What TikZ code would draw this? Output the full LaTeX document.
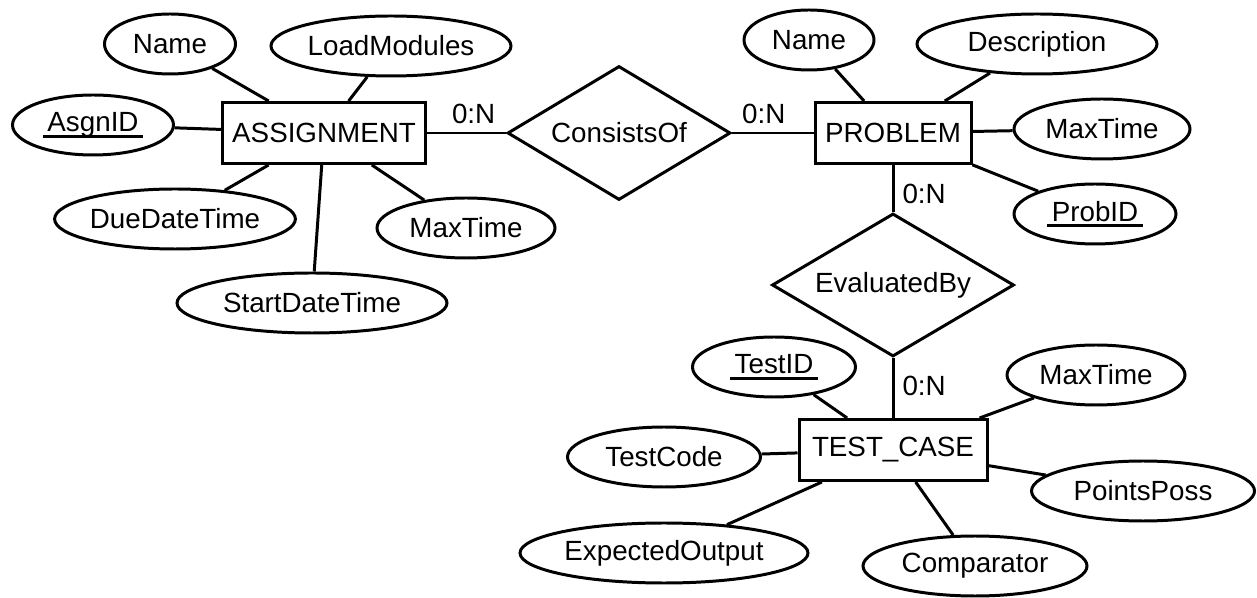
\documentclass[tikz,border=0pt]{standalone}
\usepackage{fontspec}
\setmainfont{Liberation Sans}
\usepackage{tikz}
\usetikzlibrary{shapes.geometric}
\newcommand{\linecolor}{black}
\newcommand{\thickness}{1.7pt}
\newcommand{\attrheight}{1.2cm}
\newsavebox{\keybox}
\newcommand{\keyattr}[1]{\sbox{\keybox}{#1}\rlap{\hspace{-2.5pt}\rule[-3.4pt]{\dimexpr\wd\keybox+5pt\relax}{1.7pt}}\usebox{\keybox}}

\begin{document}
\begin{tikzpicture}[
  every node/.style={font=\fontsize{15.8}{18}\selectfont},
  entity/.style={draw=\linecolor, line width=\thickness, rectangle, minimum height=1.22cm, inner sep=0pt},
  attr/.style={draw=\linecolor, line width=\thickness, ellipse, minimum height=\attrheight, inner sep=0pt},
  relation/.style={draw=\linecolor, line width=\thickness, diamond, aspect=1.65, inner sep=0pt},
  conn/.style={draw=\linecolor, line width=\thickness},
  card/.style={inner sep=0.16cm}
]
\useasboundingbox (0,0) rectangle (25.14,-11.96);
% entities and relationships
\node[entity, minimum width=4.06cm] (asgn) at (6.48, -2.66) {ASSIGNMENT};
\node[entity, minimum width=3.12cm] (prob) at (17.86, -2.66) {PROBLEM};
\node[entity, minimum width=3.76cm] (test) at (17.86, -9.00) {TEST\_CASE};
\node[relation, minimum width=4.46cm, minimum height=2.68cm] (consists) at (12.38, -2.66) {ConsistsOf};
\node[relation, minimum width=4.84cm, minimum height=2.86cm] (evalby) at (17.86, -5.70) {EvaluatedBy};
% ASSIGNMENT attributes
\node[attr, minimum width=2.62cm] (aname) at (3.40, -0.88) {Name};
\node[attr, minimum width=4.80cm] (aload) at (7.82, -0.92) {LoadModules};
\node[attr, minimum width=3.22cm] (aid) at (1.86, -2.50) {\keyattr{AsgnID}};
\node[attr, minimum width=4.80cm] (adue) at (3.50, -4.38) {DueDateTime};
\node[attr, minimum width=3.56cm] (amax) at (9.32, -4.56) {MaxTime};
\node[attr, minimum width=5.40cm] (astart) at (6.24, -6.06) {StartDateTime};
% PROBLEM attributes
\node[attr, minimum width=2.60cm] (pname) at (16.18, -0.80) {Name};
\node[attr, minimum width=4.80cm] (pdesc) at (20.74, -0.88) {Description};
\node[attr, minimum width=3.52cm] (pmax) at (22.04, -2.58) {MaxTime};
\node[attr, minimum width=3.24cm] (pid) at (21.90, -4.28) {\keyattr{ProbID}};
% TEST_CASE attributes
\node[attr, minimum width=3.26cm] (tid) at (15.48, -7.34) {\keyattr{TestID}};
\node[attr, minimum width=3.56cm] (tmax) at (21.92, -7.50) {MaxTime};
\node[attr, minimum width=3.86cm] (tcode) at (13.28, -9.14) {TestCode};
\node[attr, minimum width=4.46cm] (tpts) at (22.86, -9.82) {PointsPoss};
\node[attr, minimum width=5.76cm] (texp) at (13.28, -11.06) {ExpectedOutput};
\node[attr, minimum width=4.48cm] (tcmp) at (19.50, -11.32) {Comparator};
% relationship lines
\draw[conn] (asgn) -- node[card, above, pos=0.59] {0:N} (consists);
\draw[conn] (consists) -- node[card, above, pos=0.39] {0:N} (prob);
\draw[conn] (prob) -- node[card, right, pos=0.61] {0:N} (evalby);
\draw[conn] (evalby) -- node[card, right, pos=0.46] {0:N} (test);
% attribute lines
\draw[conn] (asgn) -- (aname);
\draw[conn] (asgn) -- (aload);
\draw[conn] (asgn) -- (aid);
\draw[conn] (asgn) -- (adue);
\draw[conn] (asgn) -- (amax);
\draw[conn] (asgn) -- (astart);
\draw[conn] (prob) -- (pname);
\draw[conn] (prob) -- (pdesc);
\draw[conn] (prob) -- (pmax);
\draw[conn] (prob) -- (pid);
\draw[conn] (test) -- (tid);
\draw[conn] (test) -- (tmax);
\draw[conn] (test) -- (tcode);
\draw[conn] (test) -- (tpts);
\draw[conn] (test) -- (texp);
\draw[conn] (test) -- (tcmp);
\end{tikzpicture}
\end{document}
